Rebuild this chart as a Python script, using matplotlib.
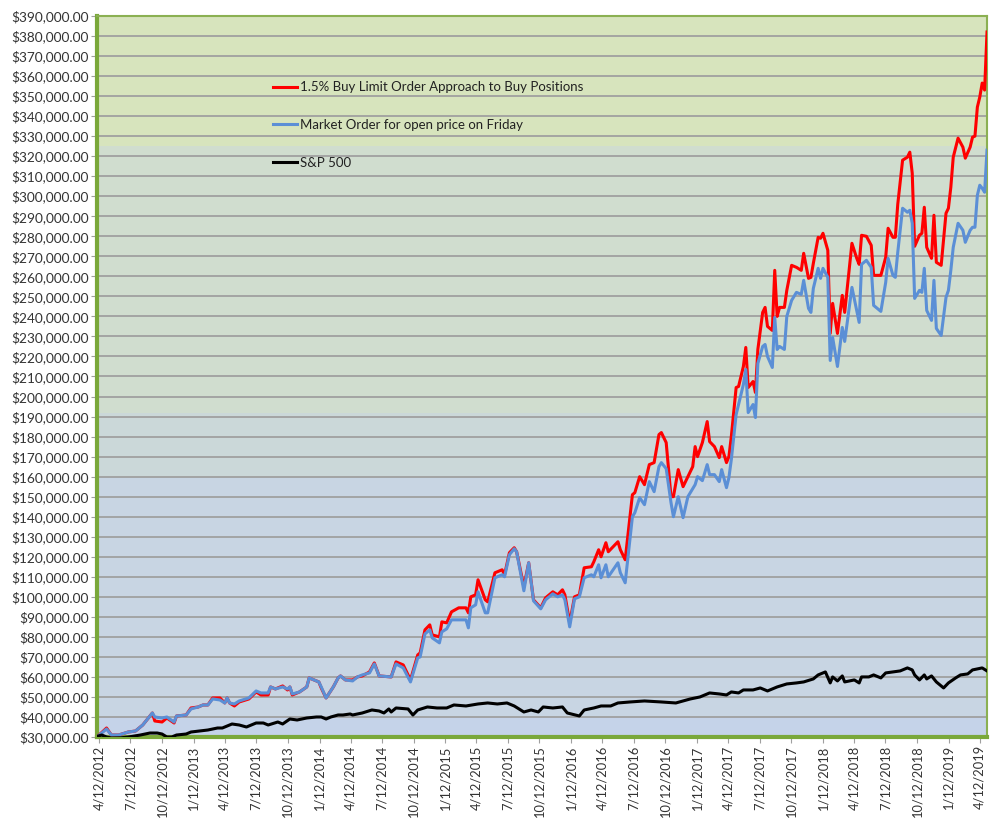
import matplotlib
matplotlib.use("Agg")
import matplotlib.pyplot as plt
import matplotlib.ticker as mticker
import pandas as pd
import numpy as np

# ---------------- data ----------------
start_date = "2012-04-06"  # first weekly observation (Friday)

# strategies: week index since start, values in thousands of $
strat_week = [0, 4, 6, 9, 13, 16, 19, 23, 24, 27, 29, 32, 33, 37, 39, 42, 44, 46, 48, 51,
              53, 54, 55, 57, 59, 63, 66, 68, 71, 72, 74, 77, 79, 80, 81, 84, 87, 88, 90, 92,
              93, 95, 98, 100, 101, 103, 106, 108, 110, 113, 115, 117, 122, 124, 127, 130, 133, 134, 136, 138,
              139, 142, 143, 145, 147, 150, 153, 154, 155, 157, 158, 161, 162, 165, 168, 169, 171, 173, 174, 177,
              179, 181, 184, 186, 189, 191, 193, 194, 196, 198, 200, 202, 205, 206, 208, 209, 211, 212, 216, 217,
              219, 222, 223, 225, 227, 229, 231, 233, 234, 236, 238, 239, 241, 243, 245, 247, 248, 249, 251, 253,
              254, 256, 258, 259, 261, 262, 263, 265, 266, 268, 269, 270, 272, 273, 274, 276, 277, 278, 280, 281,
              282, 283, 285, 286, 288, 290, 292, 293, 295, 296, 297, 299, 300, 301, 303, 304, 305, 307, 309, 310,
              313, 315, 316, 317, 319, 321, 322, 325, 327, 328, 330, 331, 332, 334, 336, 337, 338, 339, 341, 342,
              343, 344, 346, 347, 348, 350, 352, 353, 354, 355, 357, 359, 360, 362, 363, 364, 365, 366, 367, 368,
              369]

limit_order = [30, 34.5, 31, 31, 32.5, 33, 36, 42, 38, 37.5, 39.5, 37, 40.5, 41, 44.5, 45, 46, 46, 49.5, 49.5,
               47, 49.5, 47, 45.5, 47.5, 49, 52.5, 51, 51, 55, 54, 55.5, 53.5, 55, 51, 52.5, 55, 59.5, 58.5, 57.5,
               54.5, 49.5, 55, 59.5, 60.5, 58.5, 58.5, 60, 60.5, 62.5, 67, 60.5, 60, 67.5, 66, 58.5, 71, 72, 83.5, 86,
               81, 80, 87.5, 87, 92.5, 94.5, 94.5, 92, 100, 101, 108.5, 98.5, 97.5, 112, 113.5, 111, 122, 124.5, 122.5, 105,
               117, 98.5, 94.5, 99.5, 102.5, 101, 103.5, 101, 87, 100, 101, 114.5, 115, 117.5, 123.5, 120, 127, 122.5, 127.5, 123.5,
               118.5, 151, 152, 160, 156, 166, 167, 181, 182, 177, 150, 150, 163.5, 155, 160, 165, 175, 170, 177, 187.5,
               177.5, 175, 169.5, 175, 167, 170, 180, 204.5, 205, 215, 224.5, 204.5, 207.5, 202, 223.5, 242, 244.5, 235, 233, 263,
               240, 244.5, 244.5, 253, 265.5, 264.5, 263, 271.5, 259, 259.5, 266.5, 279.5, 279, 281.5, 273, 231.5, 246.5, 231.5, 250.5, 242,
               276.5, 269, 266, 280.5, 280, 275.5, 260.5, 260.5, 269.5, 284, 279.5, 279.5, 296, 318, 319.5, 322, 311.5, 275, 280.5, 281.5,
               294.5, 274.5, 269, 290.5, 267, 265.5, 291.5, 294, 304.5, 319.5, 329, 324.5, 319, 324.5, 329.5, 330, 344.5, 349.5, 356.5, 353,
               382]

market_order = [30, 34, 31, 31, 32.5, 33, 36, 42, 40, 39.5, 40, 37.5, 40.5, 41, 44, 45, 46, 46, 49, 48.5,
                47, 49.5, 47, 46.5, 48, 49.5, 53, 52, 52, 55, 54, 55, 54, 55, 51.5, 52.5, 55, 59.5, 58.5, 57.5,
                55, 49.5, 55, 59.5, 60.5, 58.5, 58, 60, 61, 62, 66.5, 60.5, 60, 66.5, 64.5, 57.5, 69.5, 70, 81.5, 83.5,
                79.5, 77, 82.5, 84, 88.5, 88.5, 88.5, 84.5, 94.5, 96, 102.5, 92, 92, 109.5, 111, 110, 121, 124, 122.5, 103,
                117, 98, 94, 98.5, 101.5, 100, 101, 98.5, 85, 99, 100, 109.5, 111, 110, 116, 109.5, 116, 110, 117, 112,
                107, 140, 142, 149.5, 146, 157.5, 152.5, 165, 167, 164, 147, 140, 150, 139.5, 150, 154, 156, 160, 158, 166,
                161, 161, 157.5, 163.5, 154.5, 159.5, 168.5, 191, 196, 206, 213.5, 192, 196, 189.5, 216.5, 225, 226, 220, 214.5, 239.5,
                223.5, 225, 223.5, 240, 248, 252, 251, 258, 244, 242, 254, 264, 259, 264, 259.5, 218, 229.5, 215, 234.5, 227.5,
                254.5, 243, 237, 266, 268, 264.5, 245.5, 242.5, 257, 269, 260.5, 259.5, 272, 294, 292, 293, 286.5, 249, 253, 252,
                264, 243, 238, 258, 234, 230.5, 249.5, 253, 263, 274.5, 286.5, 283, 277, 283, 284.5, 284.5, 300.5, 305.5, 304, 302,
                323]

sp_week = [0, 2, 4, 6, 10, 13, 18, 22, 25, 27, 29, 31, 33, 37, 39, 46, 50, 52, 54, 56,
           59, 62, 66, 69, 71, 75, 77, 80, 83, 87, 91, 93, 95, 97, 100, 102, 105, 106, 110, 114,
           117, 119, 121, 122, 124, 129, 131, 133, 137, 141, 145, 148, 153, 158, 162, 166, 170, 173, 177, 180,
           183, 185, 189, 193, 195, 200, 202, 206, 209, 213, 216, 221, 227, 234, 240, 246, 250, 254, 258, 261,
           263, 266, 268, 272, 275, 278, 282, 286, 290, 293, 297, 299, 302, 304, 305, 307, 309, 310, 314, 316,
           317, 320, 322, 325, 327, 330, 333, 336, 338, 339, 341, 343, 344, 346, 348, 351, 353, 356, 358, 361,
           363, 367, 369]

sp500 = [30.3, 31, 30, 29.5, 29.6, 30, 31, 32, 32, 31.5, 30, 30, 31, 31.5, 32.5, 33.5, 34.5, 34.5, 35.5, 36.5,
         36, 35, 37, 37, 36, 37.5, 36.5, 39, 38.5, 39.5, 40, 40, 39, 40, 41, 41, 41.5, 41, 42, 43.5,
         43, 42, 44, 42.5, 44.5, 44, 41, 43.5, 45, 44.5, 44.5, 46, 45.5, 46.5, 47, 46.5, 47, 45.5, 42.5, 43.5,
         42.5, 45, 44.5, 45, 42, 40.5, 43.5, 44.5, 45.5, 45.5, 47, 47.5, 48, 47.5, 47, 49, 50, 52, 51.5, 51,
         52.5, 52, 53.5, 53.5, 54.5, 53, 55, 56.5, 57, 57.5, 59, 61, 62.5, 57, 60, 58, 60.5, 57.5, 58.5, 57,
         60, 60, 61, 59.5, 62, 62.5, 63, 64.5, 63.5, 61, 58.5, 61, 59, 60.5, 57.5, 54.5, 57, 59.5, 61, 61.5,
         63.5, 64.5, 63]

labels = ["1.5% Buy Limit Order Approach to Buy Positions",
          "Market Order for open price on Friday",
          "S&P 500"]

# ---------------- figure ----------------
t0 = pd.Timestamp(start_date)
strat_dates = t0 + pd.to_timedelta(np.array(strat_week) * 7, unit="D")
sp_dates = t0 + pd.to_timedelta(np.array(sp_week) * 7, unit="D")

fig = plt.figure(figsize=(9.99, 8.19), dpi=100)
ax = fig.add_axes([0.097, 0.1001, 0.891, 0.8804])

ymin, ymax = 30000, 390000
# banded gradient background (green top -> blue bottom)
bands = [(325000, 390000, "#d7e4bd"),
         (192000, 325000, "#d0ddcf"),
         (160000, 192000, "#cbd8d9"),
         (40000, 160000, "#c8d5e3"),
         (30000, 40000, "#c5d3e9")]
for lo, hi, c in bands:
    ax.axhspan(lo, hi, color=c, zorder=0, lw=0)

ax.set_axisbelow(True)
ax.yaxis.grid(True, color="#a0a0a0", lw=1.3, zorder=1)
ax.xaxis.grid(False)

ax.plot(strat_dates, np.array(limit_order) * 1000, color="#ff0000", lw=2.2, zorder=3, label=labels[0])
ax.plot(strat_dates, np.array(market_order) * 1000, color="#5b8fd6", lw=2.2, zorder=4, label=labels[1])
ax.plot(sp_dates, np.array(sp500) * 1000, color="#000000", lw=2.2, zorder=5, label=labels[2])

ax.set_ylim(ymin, ymax)
ax.set_xlim(strat_dates[0], strat_dates[-1])
ax.yaxis.set_major_locator(mticker.MultipleLocator(10000))
ax.yaxis.set_major_formatter(mticker.FuncFormatter(lambda v, p: f"${v:,.2f}"))

ticks = pd.date_range(start="2012-04-12", periods=29, freq=pd.DateOffset(months=3))
ax.set_xticks(ticks)
ax.set_xticklabels([f"{d.month}/{d.day}/{d.year}" for d in ticks], rotation=90)

for lab in ax.get_yticklabels():
    lab.set_fontfamily("Lato")
    lab.set_fontsize(9.8)
    lab.set_color("#333333")
for lab in ax.get_xticklabels():
    lab.set_fontfamily("Lato")
    lab.set_fontsize(9.3)
    lab.set_color("#333333")

ax.tick_params(axis="both", which="major", length=4, color="#a0a0a0", pad=2)

for side in ["left", "bottom"]:
    ax.spines[side].set_color("#7aa83a")
    ax.spines[side].set_linewidth(3)
for side in ["top", "right"]:
    ax.spines[side].set_color("#8bb052")
    ax.spines[side].set_linewidth(1.5)

leg = ax.legend(loc="upper left", bbox_to_anchor=(0.184, 0.926), frameon=False,
                labelspacing=1.95, handlelength=1.85, handletextpad=0.2,
                prop={"family": "Lato", "size": 9.5})
for t in leg.get_texts():
    t.set_color("#222222")

fig.savefig("out.png", dpi=100, facecolor="white")
